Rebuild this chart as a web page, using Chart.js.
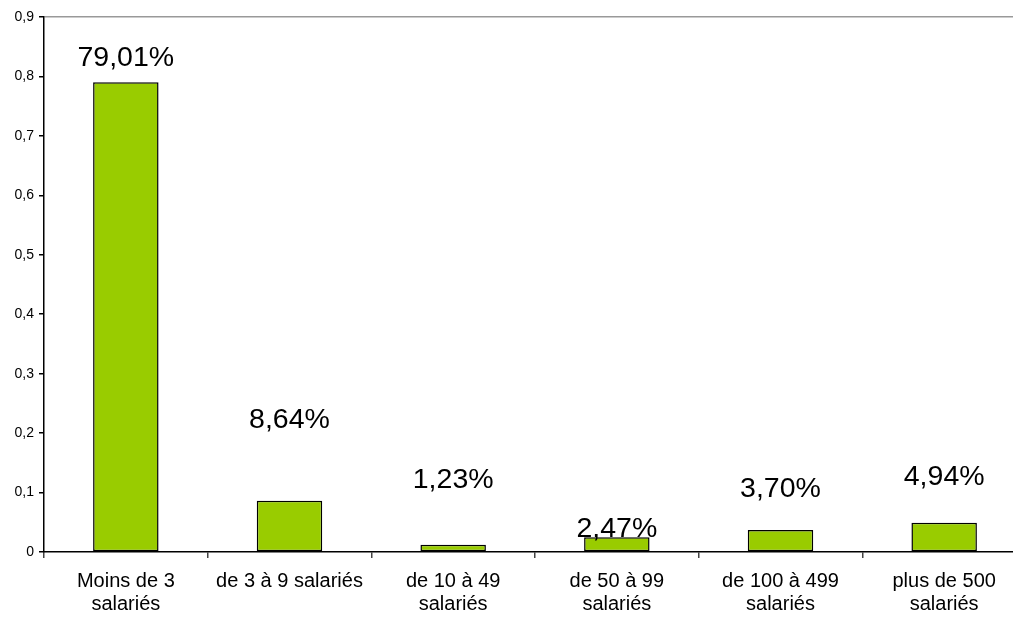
<!DOCTYPE html>
<html lang="fr">
<head>
	<meta charset="UTF-8">
	<title>Répartition par taille d'entreprise</title>
	<script src="https://cdn.jsdelivr.net/npm/chart.js"></script>
	<style>
    	body {
        	margin: 0;
        	padding: 0;
        	background-color: #ffffff;
        	overflow: hidden;
    	}
    	.chart-wrapper {
        	width: 1040px;
        	height: 619px;
    	}
	</style>
</head>
<body>

	<div class="chart-wrapper">
    	<canvas id="sizeChart"></canvas>
	</div>

	<script>
    	// Data
    	const categories = [
        	['Moins de 3', 'salariés'],
        	['de 3 à 9 salariés'],
        	['de 10 à 49', 'salariés'],
        	['de 50 à 99', 'salariés'],
        	['de 100 à 499', 'salariés'],
        	['plus de 500', 'salariés']
    	];
    	const shares = [0.7901, 0.0864, 0.0123, 0.0247, 0.0370, 0.0494];
    	const yTicks = [0, 0.1, 0.2, 0.3, 0.4, 0.5, 0.6, 0.7, 0.8, 0.9];

    	const toComma = (v, digits) => v.toFixed(digits).replace('.', ',');

    	// Value labels above each bar (Excel labels were moved by hand, so offsets differ)
    	const valueLabels = {
        	id: 'valueLabels',
        	afterDatasetsDraw(chart, args, opts) {
            	const ctx = chart.ctx;
            	const meta = chart.getDatasetMeta(0);
            	ctx.save();
            	ctx.font = '28.5px "Liberation Sans", Arial, sans-serif';
            	ctx.fillStyle = '#000';
            	ctx.textAlign = 'center';
            	ctx.textBaseline = 'alphabetic';
            	meta.data.forEach((bar, i) => {
                	const text = toComma(shares[i] * 100, 2) + '%';
                	ctx.fillText(text, bar.x, bar.y - opts.offsets[i]);
            	});
            	ctx.restore();
        	}
    	};

    	new Chart(document.getElementById('sizeChart').getContext('2d'), {
        	type: 'bar',
        	data: {
            	labels: categories,
            	datasets: [{
                	data: shares,
                	backgroundColor: '#99cc00',
                	borderColor: '#000',
                	borderWidth: 1.5,
                	borderSkipped: false,
                	categoryPercentage: 1,
                	barPercentage: 0.4
            	}]
        	},
        	options: {
            	responsive: true,
            	maintainAspectRatio: false,
            	animation: false,
            	layout: { padding: { top: 17, right: 14, left: 0, bottom: 0 } },
            	plugins: {
                	legend: { display: false },
                	tooltip: { enabled: false },
                	valueLabels: { offsets: [16, 73, 57, 0, 33, 38] }
            	},
            	scales: {
                	x: {
                    	grid: {
                        	offset: true,
                        	drawOnChartArea: false,
                        	tickLength: 6,
                        	tickColor: '#444',
                        	lineWidth: 1.5
                    	},
                    	border: { color: '#000', width: 1.5 },
                    	ticks: {
                        	color: '#000',
                        	padding: 12,
                        	maxRotation: 0,
                        	autoSkip: false,
                        	font: { family: '"Liberation Sans", Arial, sans-serif', size: 20, lineHeight: 1.15 }
                    	},
                    	afterFit(scale) { scale.height = 67; }
                	},
                	y: {
                    	min: 0,
                    	max: 0.9,
                    	afterBuildTicks(scale) { scale.ticks = yTicks.map(v => ({ value: v })); },
                    	grid: {
                        	color: ctx => (ctx.tick && ctx.tick.value === 0.9) ? '#999' : 'rgba(0,0,0,0)',
                        	lineWidth: 1.5,
                        	tickLength: 5,
                        	tickColor: '#000'
                    	},
                    	border: { color: '#000', width: 1.5 },
                    	ticks: {
                        	color: '#000',
                        	padding: 5,
                        	font: { family: '"Liberation Sans", Arial, sans-serif', size: 14 },
                        	callback: v => v === 0 ? '0' : toComma(v, 1)
                    	},
                    	afterFit(scale) { scale.width = 44; }
                	}
            	}
        	},
        	plugins: [valueLabels]
    	});
	</script>

</body>
</html>
